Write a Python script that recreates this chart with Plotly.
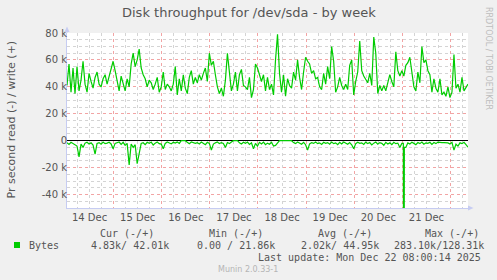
import pandas as pd
import plotly.graph_objects as go

# ---------------- data ----------------
# hourly samples, Dec 14 00:45 -> Dec 22 08:45 ; values in k bytes / s
write_k = [
    41, 57, 36, 54, 35, 55, 37, 45, 59, 42,
    36, 50, 44, 39, 47, 51, 42, 40, 46, 49,
    42, 48, 52, 59, 52, 44, 37, 48, 42, 37,
    46, 40, 57, 65, 55, 60, 68, 54, 49, 46,
    40, 45, 43, 38, 42, 47, 36, 40, 51, 38,
    42, 40, 37, 42, 55, 34, 46, 37, 49, 39,
    35, 47, 52, 42, 47, 43, 49, 45, 50, 54,
    44, 65, 56, 59, 49, 40, 35, 39, 33, 45,
    65, 49, 37, 42, 51, 37, 49, 53, 41, 40,
    38, 47, 32, 38, 57, 54, 48, 44, 49, 37,
    47, 38, 42, 34, 60, 79, 50, 36, 49, 33,
    46, 41, 39, 51, 45, 60, 47, 38, 51, 62,
    59, 57, 50, 52, 46, 47, 40, 38, 50, 42,
    55, 46, 70, 59, 36, 40, 47, 41, 38, 42,
    38, 56, 60, 34, 44, 51, 74, 52, 48, 45,
    43, 50, 41, 77, 65, 35, 41, 37, 41, 37,
    44, 49, 44, 40, 66, 52, 48, 52, 48, 56,
    58, 62, 51, 40, 37, 51, 43, 70, 58, 60,
    52, 49, 36, 46, 39, 36, 46, 34, 36, 33,
    40, 32, 36, 64, 39, 42, 36, 47, 37, 40,
    42.01,
]
# read samples: hour offset from start, value in k (plotted below zero)
read_hours = (list(range(0, 168)) + [167.75, 168, 168.25] + list(range(169, 201)))
read_k = [
    1.5, 2.8, 1.2, 2.0, 3.0, 4.0, 12.0, 2.5, 5.0, 1.8,
    1.2, 2.4, 1.6, 3.2, 10.0, 2.0, 1.4, 2.6, 1.0, 2.2,
    1.8, 1.2, 2.4, 6.0, 2.0, 1.5, 1.0, 2.8, 1.2, 3.5,
    2.0, 18.0, 2.5, 5.0, 3.0, 17.0, 8.0, 2.0, 1.5, 3.0,
    1.2, 2.0, 1.0, 3.2, 1.8, 1.0, 2.2, 2.5, 6.0, 2.0,
    1.0, 1.6, 2.4, 1.2, 1.8, 1.0, 2.0, 0.0, 0.0, 0.0,
    1.2, 2.2, 1.0, 1.6, 2.0, 1.4, 2.4, 1.0, 1.8, 3.0,
    1.2, 2.0, 7.0, 2.5, 1.6, 1.0, 2.2, 1.4, 2.0, 5.0,
    1.4, 2.2, 1.0, 0.0, 0.0, 0.0, 1.6, 2.4, 1.2, 2.0,
    1.0, 2.8, 1.6, 6.0, 2.0, 4.0, 1.2, 2.4, 1.0, 3.0,
    1.8, 2.6, 1.2, 4.0, 3.5, 1.6, 0.0, 0.0, 0.0, 0.0,
    0.0, 0.0, 0.0, 1.4, 2.2, 1.0, 1.8, 2.6, 1.2, 3.0,
    7.0, 2.4, 1.4, 2.0, 1.0, 2.2, 1.6, 2.8, 1.2, 2.0,
    1.4, 2.6, 1.0, 2.2, 1.6, 3.0, 1.2, 2.4, 1.0, 1.8,
    2.6, 1.4, 3.0, 6.0, 2.2, 1.2, 2.0, 1.6, 2.8, 1.0,
    2.2, 1.4, 3.2, 1.8, 1.0, 2.6, 1.4, 2.0, 3.4, 1.2,
    2.4, 1.6, 3.0, 1.2, 2.2, 1.8, 5.0, 2.0, 2.0, 283.1, 5.0, 5.0,
    1.6, 2.4, 1.2, 2.0, 3.0, 1.4, 2.2, 1.0, 2.6, 1.6,
    2.0, 1.2, 2.8, 1.4, 2.2, 1.0, 1.4, 1.4, 1.4, 1.4,
    1.6, 2.4, 1.2, 7.0, 2.6, 4.0, 1.6, 2.2, 1.2, 3.0,
    4.83,
]
start_time = "2025-12-14 00:45"
end_time = "2025-12-22 08:45"
day_labels = ["14 Dec", "15 Dec", "16 Dec", "17 Dec", "18 Dec", "19 Dec", "20 Dec", "21 Dec"]
label_times = ["2025-12-%02d 12:00" % d for d in range(14, 22)]
midnight_times = ["2025-12-%02d 00:00" % d for d in range(15, 23)]
y_tick_vals = [-40000, -20000, 0, 20000, 40000, 60000, 80000]
y_tick_text = ["-40 k", "-20 k", "0", "20 k", "40 k", "60 k", "80 k"]

legend_headers = ["Cur (-/+)", "Min (-/+)", "Avg (-/+)", "Max (-/+)"]
legend_values = ["4.83k/ 42.01k", "0.00 / 21.86k", "2.02k/ 44.95k", "283.10k/128.31k"]

t0 = pd.Timestamp(start_time)
write_times = pd.date_range(start_time, periods=len(write_k), freq="h")
read_times = [t0 + pd.Timedelta(hours=h) for h in read_hours]

# ---------------- geometry ----------------
W, H = 497, 280
L, R, T, B = 67, 29, 33, 72
PW, PH = W - L - R, H - T - B


def px(x):
    return (x - L) / PW


def py(y):
    return (H - B - y) / PH


GREEN = "#00CC00"
FONT = "DejaVu Sans"
MONO = "DejaVu Sans Mono"
TXT = "#555555"
AXIS = "#C6CCF2"

fig = go.Figure()
fig.add_trace(go.Scatter(x=write_times, y=[v * 1000 for v in write_k], mode="lines",
                         line=dict(color=GREEN, width=1.2), showlegend=False, hoverinfo="skip"))
fig.add_trace(go.Scatter(x=read_times, y=[-v * 1000 for v in read_k], mode="lines",
                         line=dict(color=GREEN, width=1.2), showlegend=False, hoverinfo="skip"))
# invisible trace to anchor the label axis
fig.add_trace(go.Scatter(x=[write_times[0]], y=[0], xaxis="x2", mode="lines",
                         line=dict(width=0), showlegend=False, hoverinfo="skip"))

fig.update_layout(
    width=W, height=H,
    margin=dict(l=L, r=R, t=T, b=B, pad=0),
    paper_bgcolor="#F0F0F0", plot_bgcolor="#FFFFFF",
    showlegend=False,
    xaxis=dict(
        type="date", range=[start_time, end_time],
        tickmode="array", tickvals=midnight_times, showticklabels=False, ticks="",
        showgrid=True, gridcolor="#F2A4A4", griddash="dot", gridwidth=1,
        minor=dict(dtick=6 * 3600 * 1000, tick0="2025-12-14 00:00", showgrid=True,
                   gridcolor="#D4D4D4", griddash="dot", gridwidth=1),
        showline=True, linecolor=AXIS, linewidth=1, zeroline=False,
    ),
    xaxis2=dict(
        type="date", range=[start_time, end_time], overlaying="x", anchor="y", side="bottom",
        tickmode="array", tickvals=label_times, ticktext=day_labels, ticks="",
        showgrid=False, zeroline=False, showline=False, ticklabelstandoff=2,
        tickfont=dict(family=FONT, size=10, color=TXT),
    ),
    yaxis=dict(
        range=[-50000, 80000],
        tickmode="array", tickvals=y_tick_vals, ticktext=y_tick_text, ticks="",
        tickfont=dict(family=FONT, size=10, color=TXT), ticklabelstandoff=-3,
        showgrid=True, gridcolor="#F2A4A4", griddash="dot", gridwidth=1,
        minor=dict(dtick=5000, tick0=0, showgrid=True, gridcolor="#D4D4D4",
                   griddash="dot", gridwidth=1),
        zeroline=True, zerolinecolor="#000000", zerolinewidth=1,
        showline=True, linecolor=AXIS, linewidth=1,
    ),
)

# axis arrows (decoration)
shapes = [
    dict(type="line", xref="paper", yref="paper", x0=px(67), x1=px(67), y0=py(33), y1=py(29),
         line=dict(color=AXIS, width=1)),
    dict(type="path", xref="paper", yref="paper",
         path="M %f %f L %f %f L %f %f Z" % (px(64.5), py(32), px(69.5), py(32), px(67), py(26.5)),
         fillcolor=AXIS, line=dict(width=0)),
    dict(type="line", xref="paper", yref="paper", x0=px(468), x1=px(470), y0=0, y1=0,
         line=dict(color=AXIS, width=1)),
    dict(type="path", xref="paper", yref="paper",
         path="M %f %f L %f %f L %f %f Z" % (px(468), py(205.5), px(468), py(210.5), px(473.5), py(208)),
         fillcolor=AXIS, line=dict(width=0)),
    dict(type="rect", xref="paper", yref="paper", x0=px(14), x1=px(20), y0=py(242), y1=py(248),
         fillcolor=GREEN, line=dict(width=0)),
]
fig.update_layout(shapes=shapes)

ann = []
ann.append(dict(text="Disk throughput for /dev/sda - by week", x=px(248.5), y=py(13),
                xanchor="center", yanchor="middle", font=dict(family=FONT, size=13, color=TXT)))
ann.append(dict(text="Pr second read (-) / write (+)", x=px(10.5), y=py(120), textangle=-90,
                xanchor="center", yanchor="middle", font=dict(family=FONT, size=11, color=TXT)))
ann.append(dict(text="RRDTOOL / TOBI OETIKER", x=px(488.5), y=py(5), textangle=90,
                xanchor="center", yanchor="top", font=dict(family=FONT, size=8, color="#BDBDBD")))
ann.append(dict(text="Bytes", x=px(26.5), y=py(245), xanchor="left", yanchor="middle",
                font=dict(family=MONO, size=10, color=TXT)))
header_left = [98, 207, 316, 423]
value_left = [89, 195, 299, 392]
for h, xl in zip(legend_headers, header_left):
    ann.append(dict(text=h, x=px(xl), y=py(233), xanchor="left", yanchor="middle",
                    font=dict(family=MONO, size=10, color=TXT)))
for v, xl in zip(legend_values, value_left):
    ann.append(dict(text=v, x=px(xl), y=py(245), xanchor="left", yanchor="middle",
                    font=dict(family=MONO, size=10, color=TXT)))
ann.append(dict(text="Last update: Mon Dec 22 08:00:14 2025", x=px(483), y=py(257),
                xanchor="right", yanchor="middle", font=dict(family=MONO, size=10, color=TXT)))
ann.append(dict(text="Munin 2.0.33-1", x=px(248), y=py(269), xanchor="center", yanchor="middle",
                font=dict(family=FONT, size=8, color="#B5B5B5")))
for a in ann:
    a.update(xref="paper", yref="paper", showarrow=False)
fig.update_layout(annotations=ann)

fig.write_html("out.html")
